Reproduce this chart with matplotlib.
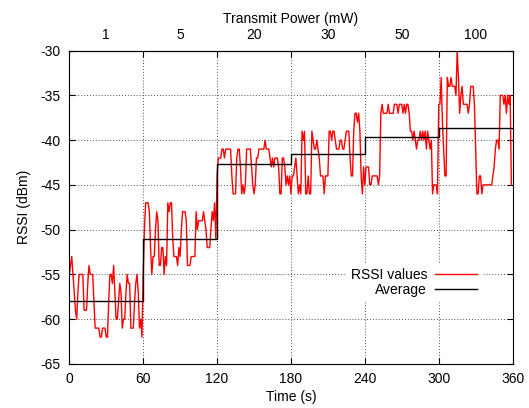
import numpy as np
import matplotlib
matplotlib.use("Agg")
import matplotlib.pyplot as plt
from matplotlib.lines import Line2D

plt.rcParams['font.family'] = ['Liberation Sans', 'DejaVu Sans']
plt.rcParams['font.size'] = 10
plt.rcParams['axes.unicode_minus'] = False

# RSSI samples (dBm), one per second, split by transmit power step
rssi_1mw = [-55, -54, -53, -55, -57, -59, -60, -57, -55, -55,
            -55, -55, -59, -59, -59, -56, -54, -55, -55, -55,
            -58, -61, -61, -61, -61, -62, -62, -61, -61, -61,
            -62, -62, -58, -55, -55, -56, -54, -57, -60, -60,
            -58, -56, -57, -61, -60, -60, -57, -55, -56, -56,
            -61, -61, -61, -58, -56, -55, -57, -61, -60, -62]
rssi_5mw = [-55, -50, -47, -47, -47, -48, -52, -55, -53, -53,
            -50, -48, -49, -54, -54, -52, -52, -55, -53, -54,
            -47, -48, -47, -47, -51, -53, -53, -53, -54, -52,
            -53, -50, -48, -48, -48, -49, -54, -54, -54, -53,
            -53, -53, -53, -48, -50, -49, -49, -49, -49, -48,
            -49, -50, -52, -52, -52, -50, -48, -49, -47, -51]
rssi_20mw = [-44, -42, -42, -42, -41, -41, -42, -41, -41, -41,
             -41, -41, -44, -46, -46, -46, -42, -41, -41, -43,
             -46, -45, -46, -45, -41, -41, -41, -41, -43, -45,
             -46, -45, -42, -42, -41, -41, -41, -41, -41, -40,
             -41, -41, -41, -42, -43, -42, -43, -42, -42, -42,
             -43, -46, -46, -42, -42, -43, -45, -44, -45, -44]
rssi_30mw = [-46, -44, -44, -43, -42, -44, -46, -45, -46, -39,
             -40, -39, -46, -46, -44, -46, -46, -39, -40, -41,
             -41, -40, -41, -42, -44, -44, -44, -46, -44, -44,
             -44, -39, -39, -40, -39, -39, -40, -41, -41, -41,
             -40, -40, -41, -41, -40, -39, -39, -39, -42, -44,
             -44, -39, -37, -37, -38, -37, -39, -44, -46, -43]
rssi_50mw = [-45, -43, -43, -43, -45, -45, -44, -44, -44, -44,
             -44, -45, -44, -37, -36, -37, -37, -37, -37, -36,
             -37, -37, -37, -37, -36, -36, -36, -37, -36, -36,
             -36, -37, -36, -37, -36, -36, -37, -39, -39, -40,
             -39, -40, -41, -40, -40, -39, -40, -39, -40, -39,
             -41, -39, -40, -41, -40, -46, -45, -45, -45, -46]
rssi_100mw = [-36, -36, -33, -38, -41, -44, -44, -33, -34, -34,
              -33, -34, -34, -34, -35, -30, -33, -37, -35, -34,
              -36, -36, -36, -36, -37, -36, -34, -34, -34, -36,
              -41, -46, -46, -44, -44, -46, -45, -45, -45, -45,
              -45, -45, -45, -45, -44, -43, -41, -40, -40, -41,
              -35, -35, -35, -36, -35, -37, -35, -36, -35, -45]

power_labels = ['1', '5', '20', '30', '50', '100']
step_edges = [0, 60, 120, 180, 240, 300, 360]
avg_rssi = [-58.0, -51.0, -42.7, -41.6, -39.65, -38.65]

rssi = np.concatenate([rssi_1mw, rssi_5mw, rssi_20mw,
                       rssi_30mw, rssi_50mw, rssi_100mw])
t = np.arange(len(rssi))

fig = plt.figure(figsize=(5.29, 4.08), dpi=100)
ax = fig.add_axes([0.131, 0.108, 0.838, 0.768])

ax.plot(t, rssi, color='red', lw=1.0)
ax.step(step_edges, avg_rssi + [avg_rssi[-1]], where='post', color='black', lw=1.0)

ax.set_xlim(0, 360)
ax.set_ylim(-65, -30)
ax.set_xticks(step_edges)
ax.set_yticks(np.arange(-65, -29, 5))
ax.tick_params(direction='in', length=4, top=True, right=True, pad=6)
ax.grid(True, linestyle=(0, (1, 2)), color='0.3', lw=0.7)
ax.set_xlabel('Time (s)', labelpad=3)
ax.set_ylabel('RSSI (dBm)', labelpad=7)

top = ax.secondary_xaxis('top')
centers = [(a + b) / 2 for a, b in zip(step_edges[:-1], step_edges[1:])]
top.set_xticks(centers)
top.set_xticklabels(power_labels)
top.tick_params(length=0, pad=6)
top.set_xlabel('Transmit Power (mW)', labelpad=4)

handles = [Line2D([], [], color='red', lw=1.0),
           Line2D([], [], color='black', lw=1.0)]
leg = ax.legend(handles, ['RSSI values', 'Average'], loc='upper right',
                bbox_to_anchor=(0.945, 0.342), markerfirst=False,
                handlelength=3.0, handletextpad=0.6, labelspacing=0.1,
                borderpad=0.3, fancybox=False, framealpha=1,
                facecolor='white', edgecolor='white')

fig.savefig('out.png', dpi=100)
